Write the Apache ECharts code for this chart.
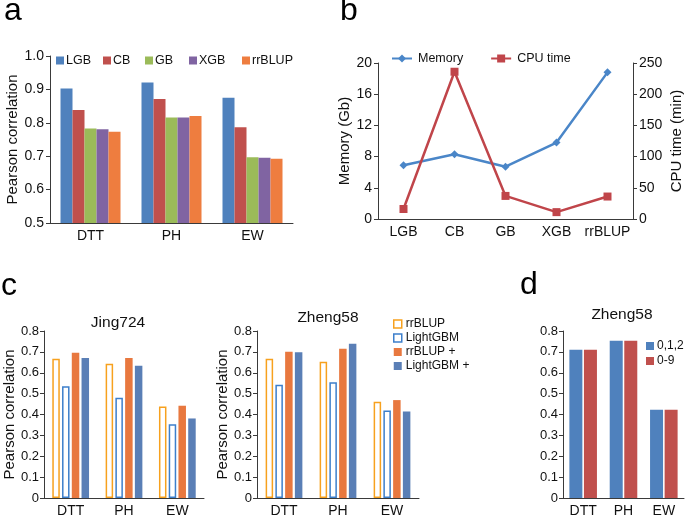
<!DOCTYPE html>
<html><head><meta charset="utf-8">
<script src="https://cdn.jsdelivr.net/npm/echarts@6/dist/echarts.min.js"></script>
<style>html,body{margin:0;padding:0;background:#fff}#c{width:685px;height:518px}</style>
</head><body><div id="c"></div>
<script>
// ---- data ----
const traitCats = ['DTT', 'PH', 'EW'];
const aLGB = [0.903, 0.921, 0.875];
const aCB = [0.838, 0.871, 0.787];
const aGB = [0.783, 0.816, 0.697];
const aXGB = [0.781, 0.816, 0.695];
const aRR = [0.773, 0.820, 0.692];
const bCats = ['LGB', 'CB', 'GB', 'XGB', 'rrBLUP'];
const bMemory = [6.9, 8.3, 6.7, 9.8, 18.8];
const bCPU = [16, 236, 37, 11, 36];
const cJingRR = [0.667, 0.643, 0.438];
const cJingLGBM = [0.535, 0.480, 0.353];
const cJingRRp = [0.696, 0.671, 0.442];
const cJingLGBMp = [0.671, 0.634, 0.381];
const cZhengRR = [0.667, 0.653, 0.461];
const cZhengLGBM = [0.543, 0.555, 0.419];
const cZhengRRp = [0.701, 0.715, 0.469];
const cZhengLGBMp = [0.698, 0.739, 0.414];
const d012 = [0.710, 0.753, 0.423];
const d09 = [0.710, 0.753, 0.423];

const FONT = '"Liberation Sans", Arial, Helvetica, sans-serif';
const AX = '#3a3a3a';
const TXT = '#111';

const colA = {LGB:'#4F81BD', CB:'#C0504D', GB:'#9BBB59', XGB:'#8064A2', rrBLUP:'#EE7D3F'};
const cRRc = '#F7A11E', cLGc = '#3D7FCB', cRRpc = '#E8783F', cLGpc = '#5A7FB6';
const dBlue = '#4F81BD', dRed = '#C0504D';

function catAxis(grid, fs, extra) {
  return Object.assign({
    type: 'category', gridIndex: grid, data: traitCats,
    axisLine: {lineStyle: {color: AX, width: 1}},
    axisTick: {lineStyle: {color: AX}, length: 4},
    axisLabel: {color: TXT, fontSize: fs, fontFamily: FONT, margin: 6, interval: 0},
    splitLine: {show: false}
  }, extra || {});
}
function valAxis(grid, min, max, interval, fs, extra) {
  return Object.assign({
    type: 'value', gridIndex: grid, min: min, max: max, interval: interval,
    axisLine: {show: true, lineStyle: {color: AX, width: 1}},
    axisTick: {show: true, lineStyle: {color: AX}, length: 4},
    axisLabel: {color: TXT, fontSize: fs, fontFamily: FONT, margin: 6},
    splitLine: {show: false},
    nameLocation: 'middle',
    nameTextStyle: {color: TXT, fontSize: 15, fontFamily: FONT}
  }, extra || {});
}

const aNames = ['LGB', 'CB', 'GB', 'XGB', 'rrBLUP'];
const aData = [aLGB, aCB, aGB, aXGB, aRR];
const aLegLeft = [56, 103, 145, 189, 242];

const legends = aNames.map((n, i) => ({
  data: ['a_' + n], left: aLegLeft[i], top: 54, orient: 'horizontal', padding: 0,
  itemWidth: 8, itemHeight: 8, icon: 'rect',
  formatter: s => s.slice(2),
  textStyle: {color: TXT, fontSize: 12.5, fontFamily: FONT, padding: [0,0,0,-3]}
}));
legends.push({
  data: ['Memory', 'CPU time'], left: 391, top: 52, itemGap: 27, padding: 0,
  itemWidth: 20, itemHeight: 10,
  textStyle: {color: TXT, fontSize: 12.5, fontFamily: FONT, padding: [0,0,0,1]}
});
legends.push({
  data: [
    {name: 'c_rrBLUP', itemStyle: {color: '#fff', borderColor: cRRc, borderWidth: 1.5}},
    {name: 'c_LightGBM', itemStyle: {color: '#fff', borderColor: cLGc, borderWidth: 1.5}},
    {name: 'c_rrBLUP +', itemStyle: {color: cRRpc}},
    {name: 'c_LightGBM +', itemStyle: {color: cLGpc}}
  ],
  orient: 'vertical', left: 393, top: 318, itemGap: 2, padding: 0,
  itemWidth: 8, itemHeight: 8, icon: 'rect',
  formatter: s => s.slice(2),
  textStyle: {color: TXT, fontSize: 12, fontFamily: FONT, padding: [0,0,0,-1]}
});
legends.push({
  data: ['0,1,2', '0-9'], orient: 'vertical', left: 646, top: 340, itemGap: 3, padding: 0,
  itemWidth: 8, itemHeight: 8, icon: 'rect',
  textStyle: {color: TXT, fontSize: 12, fontFamily: FONT, padding: [0,0,0,-2]}
});

const series = [];
aNames.forEach((n, i) => series.push({
  name: 'a_' + n, type: 'bar', xAxisIndex: 0, yAxisIndex: 0, data: aData[i],
  barWidth: 12, barGap: '0%', itemStyle: {color: colA[n]}
}));
series.push({
  name: 'Memory', type: 'line', xAxisIndex: 1, yAxisIndex: 1, data: bMemory,
  symbol: 'diamond', symbolSize: 8, lineStyle: {color: '#4A86C8', width: 2.5},
  itemStyle: {color: '#4A86C8'}
});
series.push({
  name: 'CPU time', type: 'line', xAxisIndex: 1, yAxisIndex: 2, data: bCPU,
  symbol: 'rect', symbolSize: 8, lineStyle: {color: '#C0454A', width: 2.5},
  itemStyle: {color: '#C0454A'}
});
function cSeries(xi, yi, rr, lg, rrp, lgp) {
  const common = {type: 'bar', xAxisIndex: xi, yAxisIndex: yi, barWidth: 7.5, barGap: '30%'};
  series.push(Object.assign({name: 'c_rrBLUP', data: rr,
    itemStyle: {color: '#fff', borderColor: cRRc, borderWidth: 1.5}}, common));
  series.push(Object.assign({name: 'c_LightGBM', data: lg,
    itemStyle: {color: '#fff', borderColor: cLGc, borderWidth: 1.5}}, common));
  series.push(Object.assign({name: 'c_rrBLUP +', data: rrp,
    itemStyle: {color: cRRpc}}, common));
  series.push(Object.assign({name: 'c_LightGBM +', data: lgp,
    itemStyle: {color: cLGpc}}, common));
}
cSeries(2, 3, cJingRR, cJingLGBM, cJingRRp, cJingLGBMp);
cSeries(3, 4, cZhengRR, cZhengLGBM, cZhengRRp, cZhengLGBMp);
series.push({name: '0,1,2', type: 'bar', xAxisIndex: 4, yAxisIndex: 5, data: d012,
  barWidth: 13, barGap: '12%', itemStyle: {color: dBlue}});
series.push({name: '0-9', type: 'bar', xAxisIndex: 4, yAxisIndex: 5, data: d09,
  barWidth: 13, barGap: '12%', itemStyle: {color: dRed}});

const oneDec = v => v.toFixed(1);
const c1 = v => (v === 0 ? '0' : v.toFixed(1));

const letter = (t, x, y) => ({type: 'text', left: x, top: y,
  style: {text: t, font: '32px ' + FONT, fill: '#000'}});
const ttl = (t, x, y) => ({type: 'text', x: x, y: y,
  style: {text: t, font: '15.5px ' + FONT, fill: TXT, align: 'center', verticalAlign: 'middle'}});

const option = {
  animation: false,
  backgroundColor: '#fff',
  grid: [
    {left: 50, top: 56, width: 243, height: 167},
    {left: 378, top: 63, width: 256, height: 156},
    {left: 44, top: 331, width: 160, height: 170},
    {left: 257, top: 331, width: 162, height: 170},
    {left: 563, top: 331, width: 121, height: 169}
  ],
  xAxis: [
    catAxis(0, 14, {}),
    catAxis(1, 14, {data: bCats, axisTick: {inside: true, lineStyle: {color: AX}, length: 4}}),
    catAxis(2, 14, {}),
    catAxis(3, 14, {}),
    catAxis(4, 14, {})
  ],
  yAxis: [
    valAxis(0, 0.5, 1.0, 0.1, 14, {name: 'Pearson correlation', nameGap: 30,
      axisLabel: {color: TXT, fontSize: 14, fontFamily: FONT, margin: 6, formatter: oneDec}}),
    valAxis(1, 0, 20, 4, 14, {name: 'Memory (Gb)', nameGap: 22}),
    valAxis(1, 0, 250, 50, 14, {name: 'CPU time (min)', nameGap: 36, position: 'right'}),
    valAxis(2, 0, 0.8, 0.1, 13, {name: 'Pearson correlation', nameGap: 27,
      axisLabel: {color: TXT, fontSize: 13, fontFamily: FONT, margin: 5, formatter: c1}}),
    valAxis(3, 0, 0.8, 0.1, 13, {name: 'Pearson correlation', nameGap: 27,
      axisLabel: {color: TXT, fontSize: 13, fontFamily: FONT, margin: 5, formatter: c1}}),
    valAxis(4, 0, 0.8, 0.1, 13, {
      axisLabel: {color: TXT, fontSize: 13, fontFamily: FONT, margin: 5, formatter: c1}})
  ],
  legend: legends,
  series: series,
  graphic: [
    letter('a', 4, -5), letter('b', 340, -5), letter('c', 1, 270), letter('d', 520, 269),
    ttl('Jing724', 118, 323), ttl('Zheng58', 328, 318), ttl('Zheng58', 622, 315)
  ]
};
const chart = echarts.init(document.getElementById('c'), null, {renderer: 'canvas'});
chart.setOption(option);
</script></body></html>
